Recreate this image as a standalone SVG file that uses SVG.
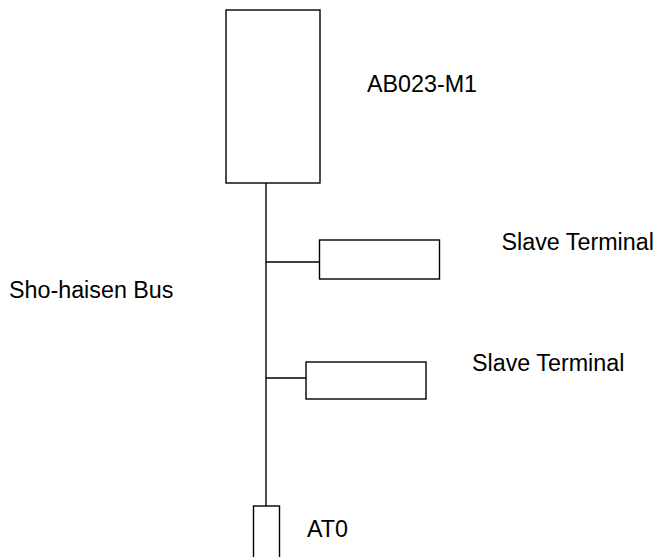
<svg xmlns="http://www.w3.org/2000/svg" width="660" height="557" viewBox="0 0 660 557">
<style>
.box{fill:#fff;stroke:#000;stroke-width:1.4}
.wire{fill:none;stroke:#000;stroke-width:1.4}
text{font-family:"Liberation Sans",Arial,sans-serif;font-size:23.3px;fill:#000}
</style>
<rect width="660" height="557" fill="#fff"/>
<g id="connectors">
<line class="wire" x1="266" y1="183" x2="266" y2="506"/>
<line class="wire" x1="266" y1="262" x2="319.5" y2="262"/>
<line class="wire" x1="266" y1="378" x2="306" y2="378"/>
</g>
<g id="AB023-M1">
<rect class="box" x="226" y="10" width="94" height="173"/>
<text x="367" y="92">AB023-M1</text>
</g>
<g id="slave1">
<rect class="box" x="319.5" y="240" width="120" height="39"/>
<text x="501.5" y="250">Slave Terminal</text>
</g>
<g id="slave2">
<rect class="box" x="306" y="362" width="120" height="37"/>
<text x="472" y="370.5">Slave Terminal</text>
</g>
<g id="AT0">
<rect class="box" x="253.5" y="506" width="26" height="60"/>
<text x="307" y="536.5">AT0</text>
</g>
<g id="bus-label">
<text x="9" y="297.5">Sho-haisen Bus</text>
</g>
</svg>
